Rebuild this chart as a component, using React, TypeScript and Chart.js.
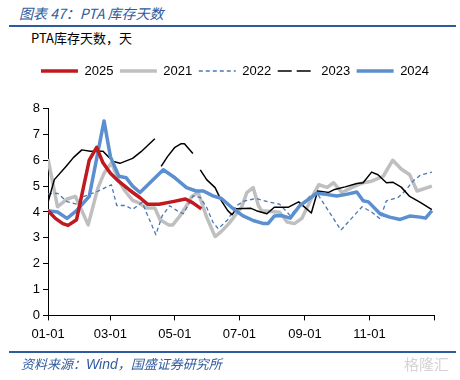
import React, { useEffect, useRef } from "react";
import { Chart, registerables } from "chart.js";

Chart.register(...registerables);

// x positions are day-of-year (0 = 01-01)
const tickDays = [0, 59, 120, 181, 243, 304, 365];
const tickLabels = ["01-01", "03-01", "05-01", "07-01", "09-01", "11-01", ""];

const seriesNames = ["2025", "2021", "2022", "2023", "2024"];

const days2025 = [0, 7, 14, 19, 27, 39, 46, 52, 59, 67, 77, 87, 94, 105, 118, 130, 137, 145];
const vals2025 = [4.05, 3.75, 3.55, 3.48, 3.7, 6.0, 6.5, 5.9, 5.5, 5.18, 4.85, 4.55, 4.3, 4.3, 4.4, 4.5, 4.35, 4.12];

const days2021 = [0, 9, 18, 26, 38, 47, 53, 60, 67, 73, 80, 86, 93, 101, 106, 114, 118, 125, 131, 136, 142, 150, 158, 164, 171, 183, 188, 194, 199, 202, 219, 226, 233, 240, 250, 256, 264, 270, 278, 287, 298, 306, 317, 326, 334, 342, 349, 363];
const vals2021 = [6.05, 4.2, 4.5, 4.6, 3.5, 4.9, 5.5, 5.9, 5.2, 4.8, 4.45, 4.35, 4.15, 4.15, 3.7, 3.5, 3.5, 3.86, 4.24, 4.6, 4.75, 3.8, 3.05, 3.25, 3.55, 4.18, 4.75, 4.94, 4.24, 4.05, 3.99, 3.61, 3.55, 3.75, 4.6, 5.05, 4.95, 5.13, 4.75, 4.94, 5.13, 5.19, 5.38, 6.0, 5.66, 5.44, 4.81, 5.0];

const days2022 = [0, 9, 18, 27, 34, 47, 60, 65, 73, 80, 89, 102, 108, 115, 122, 128, 134, 137, 144, 150, 156, 161, 170, 178, 186, 197, 210, 219, 229, 238, 248, 254, 277, 297, 306, 314, 320, 331, 339, 345, 352, 363];
const vals2022 = [4.7, 4.72, 4.4, 4.3, 4.6, 4.8, 5.05, 4.25, 4.25, 4.1, 4.37, 3.12, 3.85, 4.24, 4.05, 3.93, 4.37, 4.62, 4.56, 4.18, 3.6, 3.35, 3.7, 4.24, 4.43, 4.52, 4.37, 4.3, 3.86, 4.24, 4.62, 4.75, 3.3, 4.2, 4.0, 3.73, 4.43, 4.56, 4.87, 5.19, 5.42, 5.54];

const days2023 = [0, 6, 17, 24, 32, 40, 52, 57, 62, 68, 80, 88, 101, 104, 107, 113, 120, 126, 129, 137, 140, 144, 150, 158, 164, 170, 174, 178, 192, 197, 207, 214, 227, 237, 244, 249, 255, 265, 271, 281, 292, 298, 306, 312, 320, 326, 334, 342, 352, 363];
const vals2023 = [4.37, 5.25, 5.76, 6.1, 6.4, 6.35, 6.35, 6.14, 5.95, 5.88, 6.07, 6.33, 6.83, null, 5.76, 6.14, 6.5, 6.64, 6.64, 6.26, null, 5.63, 5.25, 4.94, 4.43, 4.05, 3.89, 4.12, 4.14, 4.05, 3.93, 4.18, 4.18, 4.39, 4.14, 3.96, 4.81, 4.75, 4.87, 4.97, 5.1, 5.13, 5.54, 5.44, 5.13, 5.15, 4.96, 4.6, 4.37, 4.09];

const days2024 = [0, 9, 18, 27, 39, 53, 59, 67, 74, 80, 87, 109, 120, 131, 140, 147, 156, 164, 173, 184, 194, 204, 208, 214, 221, 229, 238, 254, 263, 273, 282, 292, 298, 303, 314, 323, 333, 342, 352, 357, 363];
const vals2024 = [4.05, 4.0, 3.75, 4.05, 4.6, 7.52, 6.14, 5.38, 5.32, 5.0, 4.75, 5.63, 5.32, 4.94, 4.81, 4.81, 4.62, 4.52, 4.2, 3.86, 3.67, 3.55, 3.55, 3.84, 3.86, 3.76, 4.24, 4.72, 4.68, 4.62, 4.68, 4.77, 4.43, 4.39, 3.93, 3.8, 3.71, 3.84, 3.8, 3.76, 4.05];

const yTicks = [0, 1, 2, 3, 4, 5, 6, 7, 8];

const toPoints = (days: number[], vals: (number | null)[]) =>
  days.map((d, i) => ({ x: d, y: vals[i] }));

const NUM_FONT = "'Liberation Sans', Arial, sans-serif";
const CJK_FONT = "'Noto Sans CJK SC', 'Liberation Sans', sans-serif";

export default function App() {
  const canvasRef = useRef<HTMLCanvasElement | null>(null);

  useEffect(() => {
    const canvas = canvasRef.current;
    if (!canvas) return;

    const colors = ["#c0191f", "#bfbfbf", "#4a78b4", "#000000", "#5b8fcf"];
    const widths = [3.5, 3.5, 1.3, 1.5, 3.5];
    const dashes: number[][] = [[], [], [4, 3], [], []];
    const legendDashes: number[][] = [[], [], [4, 3], [14, 5, 14, 10], []];
    const orders = [0, 4, 3, 2, 1];
    const allDays = [days2025, days2021, days2022, days2023, days2024];
    const allVals = [vals2025, vals2021, vals2022, vals2023, vals2024];

    const legendSpacer = {
      id: "legendSpacer",
      beforeInit(chart: any) {
        const lg = chart.legend;
        if (!lg) return;
        const orig = lg.fit;
        lg.fit = function () {
          orig.bind(lg)();
          this.height += 21;
        };
      },
    };

    const chart = new Chart(canvas, {
      type: "line",
      data: {
        datasets: seriesNames.map((name, i) => ({
          label: name,
          data: toPoints(allDays[i], allVals[i]),
          borderColor: colors[i],
          backgroundColor: colors[i],
          borderWidth: widths[i],
          borderDash: dashes[i],
          pointRadius: 0,
          pointHoverRadius: 0,
          tension: 0,
          spanGaps: false,
          borderJoinStyle: "round" as const,
          order: orders[i],
          fill: false,
          yAxisID: "y",
        })),
      },
      options: {
        animation: false,
        responsive: false,
        devicePixelRatio: 1,
        layout: { padding: { top: 58, left: 10, right: 0, bottom: 32 } },
        plugins: {
          tooltip: { enabled: false },
          title: { display: false },
          legend: {
            display: true,
            position: "top",
            align: "center",
            labels: {
              usePointStyle: true,
              pointStyleWidth: 37,
              padding: 6.5,
              color: "#000",
              font: { family: NUM_FONT, size: 13 },
              generateLabels: (c: any) =>
                c.data.datasets.map((ds: any, i: number) => ({
                  text: ds.label,
                  strokeStyle: colors[i],
                  fillStyle: colors[i],
                  lineWidth: widths[i],
                  lineDash: legendDashes[i],
                  pointStyle: "line",
                  hidden: false,
                  datasetIndex: i,
                  fontColor: "#000",
                })),
            },
          },
        },
        scales: {
          x: {
            type: "linear",
            min: tickDays[0],
            max: tickDays[tickDays.length - 1],
            afterBuildTicks: (scale: any) => {
              scale.ticks = tickDays.map((v) => ({ value: v }));
            },
            ticks: {
              autoSkip: false,
              maxRotation: 0,
              padding: 6,
              color: "#000",
              font: { family: NUM_FONT, size: 13 },
              callback: (v: any) => {
                const idx = tickDays.indexOf(Number(v));
                return idx >= 0 ? tickLabels[idx] : "";
              },
            },
            grid: { drawOnChartArea: false, drawTicks: true, tickLength: 5, color: "#000" },
            border: { display: true, color: "#000", width: 1 },
          },
          y: {
            type: "linear",
            position: "left",
            min: yTicks[0],
            max: yTicks[yTicks.length - 1],
            afterFit: (scale: any) => {
              scale.width = 38;
            },
            afterBuildTicks: (scale: any) => {
              scale.ticks = yTicks.map((v) => ({ value: v }));
            },
            ticks: {
              padding: 3,
              color: "#000",
              font: { family: NUM_FONT, size: 13 },
            },
            grid: { drawOnChartArea: false, drawTicks: true, tickLength: 5, color: "#000" },
            border: { display: true, color: "#000", width: 1 },
          },
          yRight: {
            type: "linear",
            axis: "y",
            position: "right",
            display: true,
            afterFit: (scale: any) => {
              scale.width = 26;
            },
            ticks: { display: false },
            grid: { display: false, drawTicks: false },
            border: { display: false },
          },
        },
      },
      plugins: [legendSpacer],
    } as any);

    return () => chart.destroy();
  }, []);

  return (
    <div style={{ position: "relative", width: 460, height: 380, overflow: "hidden", background: "#fff" }}>
      <style>{`body{margin:0;}`}</style>
      <div
        style={{
          position: "absolute",
          left: 19,
          top: 3,
          fontFamily: CJK_FONT,
          fontStyle: "italic",
          fontSize: 14,
          color: "#2f5b9f",
          whiteSpace: "nowrap",
          lineHeight: "20px",
        }}
      >
        图表 47：PTA 库存天数
      </div>
      <div style={{ position: "absolute", left: 9, top: 25, width: 447, height: 2, background: "#2e5a9e" }} />
      <div
        style={{
          position: "absolute",
          left: 31,
          top: 29,
          fontFamily: CJK_FONT,
          fontSize: 13,
          color: "#000",
          whiteSpace: "nowrap",
          lineHeight: "18px",
        }}
      >
        PTA库存天数，天
      </div>
      <canvas
        ref={canvasRef}
        width={460}
        height={380}
        style={{ position: "absolute", left: 0, top: 0, width: 460, height: 380 }}
      />
      <div style={{ position: "absolute", left: 9, top: 351, width: 447, height: 2, background: "#2e5a9e" }} />
      <div
        style={{
          position: "absolute",
          left: 21,
          top: 355,
          fontFamily: CJK_FONT,
          fontStyle: "italic",
          fontSize: 13,
          color: "#2f5b9f",
          whiteSpace: "nowrap",
          lineHeight: "18px",
        }}
      >
        资料来源：<span style={{ fontFamily: NUM_FONT, fontSize: 14 }}>Wind</span>，国盛证券研究所
      </div>
      <div
        style={{
          position: "absolute",
          left: 404,
          top: 354,
          fontFamily: CJK_FONT,
          fontSize: 15,
          color: "#d4d4d4",
          whiteSpace: "nowrap",
          lineHeight: "20px",
        }}
      >
        格隆汇
      </div>
    </div>
  );
}
